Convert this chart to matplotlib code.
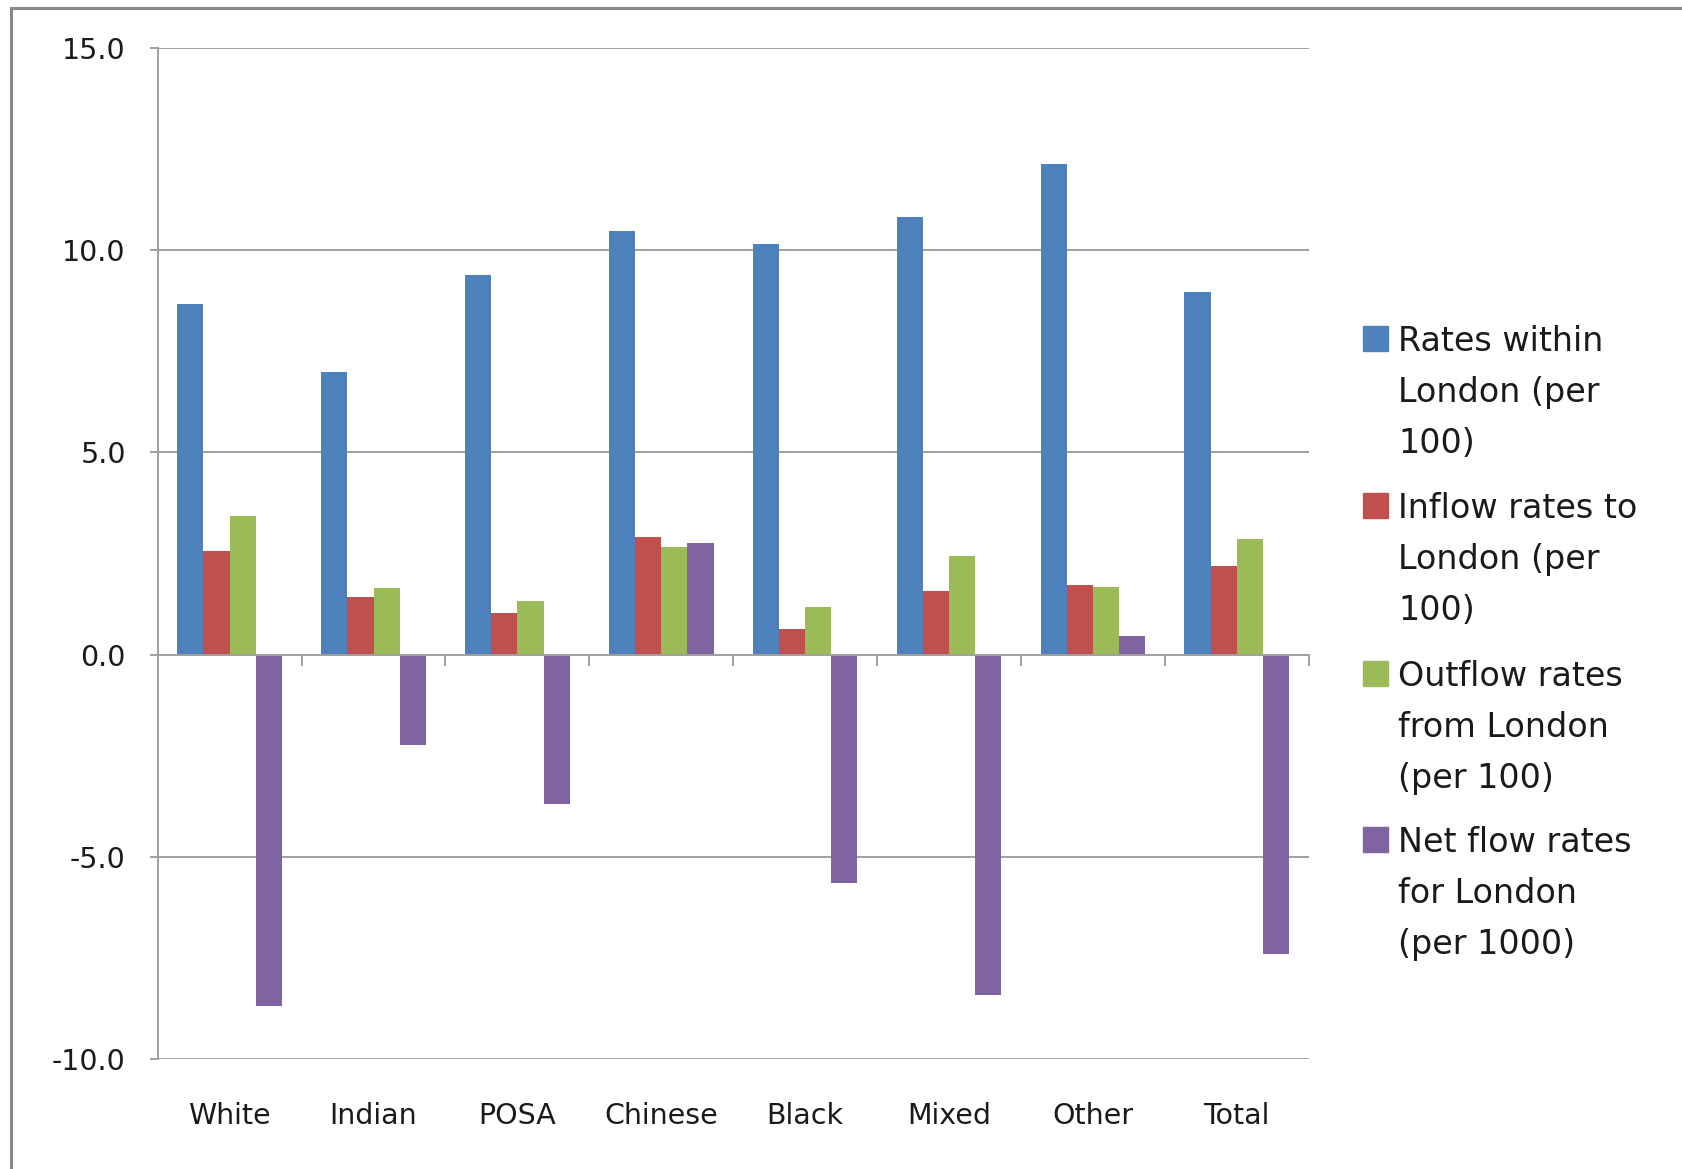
import numpy as np
import matplotlib
matplotlib.use("Agg")
import matplotlib.pyplot as plt
from matplotlib.patches import Rectangle

plt.rcParams['font.family'] = ['DejaVu Sans']
plt.rcParams['axes.unicode_minus'] = False

categories = ["White", "Indian", "POSA", "Chinese", "Black", "Mixed", "Other", "Total"]
within = [8.68, 6.98, 9.40, 10.48, 10.16, 10.83, 12.13, 8.97]
inflow = [2.57, 1.43, 1.03, 2.92, 0.64, 1.57, 1.73, 2.18]
outflow = [3.42, 1.65, 1.33, 2.65, 1.19, 2.44, 1.67, 2.87]
net = [-8.70, -2.23, -3.69, 2.76, -5.65, -8.41, 0.45, -7.40]
series_labels = ["Rates within\nLondon (per\n100)",
                 "Inflow rates to\nLondon (per\n100)",
                 "Outflow rates\nfrom London\n(per 100)",
                 "Net flow rates\nfor London\n(per 1000)"]
colors = ["#4F81BD", "#C0504D", "#9BBB59", "#8064A2"]
yticks = [-10, -5, 0, 5, 10, 15]

W, H = 1682, 1169
fig = plt.figure(figsize=(W / 100, H / 100), dpi=100)

def fx(x):
    return x / W

def fy(y):
    return 1 - y / H

ax_l, ax_r, ax_t, ax_b = 157.7, 1308.7, 48.3, 1058.8
ax = fig.add_axes([fx(ax_l), fy(ax_b), fx(ax_r - ax_l), (ax_b - ax_t) / H])

x = np.arange(len(categories))
bw = 1 / 5.5
all_series = [within, inflow, outflow, net]
for i, (vals, c) in enumerate(zip(all_series, colors)):
    ax.bar(x + (i - 1.5) * bw, vals, width=bw, color=c, zorder=3,
           edgecolor='none')

gray = '#a0a0a0'
ax.set_xlim(-0.5, len(categories) - 0.5)
ax.set_ylim(-10, 15)
ax.set_yticks(yticks)
ax.set_yticklabels([f"{v:.1f}" for v in yticks])
ax.yaxis.grid(True, color=gray, lw=1.4, zorder=1)
ax.set_axisbelow(True)
ax.tick_params(axis='y', length=6, width=1.4, color=gray, pad=17,
               labelsize=20.5, labelcolor='#1a1a1a')

for s in ['top', 'right']:
    ax.spines[s].set_visible(False)
ax.spines['left'].set_color(gray)
ax.spines['left'].set_linewidth(1.4)
ax.spines['bottom'].set_position(('data', 0))
ax.spines['bottom'].set_color(gray)
ax.spines['bottom'].set_linewidth(1.4)
ax.spines['bottom'].set_zorder(4)
ax.set_xticks(np.arange(-0.5, len(categories), 1))
ax.tick_params(axis='x', direction='out', length=8, width=1.4, color=gray,
               labelbottom=False)

sec = ax.secondary_xaxis('bottom')
sec.set_xticks(x)
sec.set_xticklabels(categories)
sec.tick_params(length=0, pad=31, labelsize=20.5, labelcolor='#1a1a1a')
sec.spines['bottom'].set_visible(False)

# legend (manual, multi-line entries)
entry_base = [351, 518, 686, 852]
line_pitch = 51
for lab, c, yb in zip(series_labels, colors, entry_base):
    fig.patches.append(Rectangle((fx(1363), fy(yb)), fx(25), 25 / H,
                                 transform=fig.transFigure, color=c))
    for k, line in enumerate(lab.split("\n")):
        fig.text(fx(1398), fy(yb + k * line_pitch), line, fontsize=24,
                 va='baseline', ha='left', color='#1a1a1a')

# outer frame
fig.patches.append(Rectangle((fx(11), -0.2), 2, fy(8) + 0.2, fill=False,
                             edgecolor='#888888', lw=2.2,
                             transform=fig.transFigure))

fig.savefig("out.png", dpi=100)
